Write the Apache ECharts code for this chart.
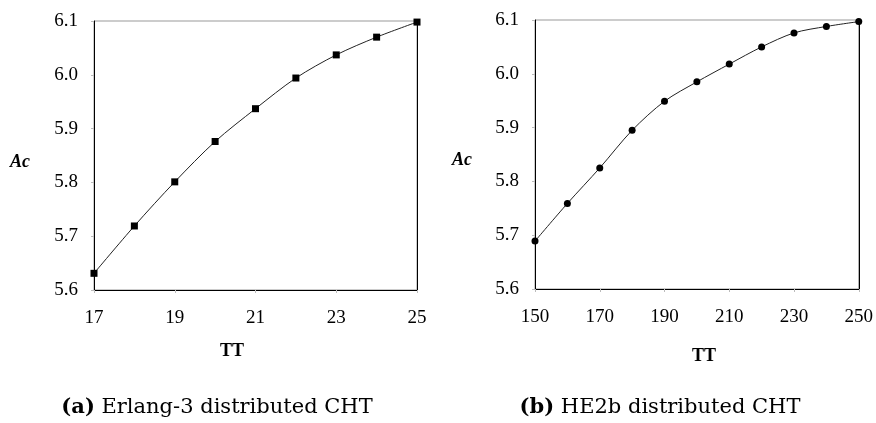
<!DOCTYPE html>
<html>
<head>
<meta charset="utf-8">
<script src="https://cdn.jsdelivr.net/npm/echarts@6/dist/echarts.min.js"></script>
<style>html,body{margin:0;padding:0;background:#fff}#c{width:876px;height:423px}</style>
</head>
<body>
<div id="c"></div>
<script>
const ttA = ['17','18','19','20','21','22','23','24','25'];
const acA = [5.631, 5.719, 5.801, 5.876, 5.937, 5.994, 6.037, 6.070, 6.098];
const ttB = ['150','160','170','180','190','200','210','220','230','240','250'];
const acB = [5.689, 5.759, 5.825, 5.895, 5.949, 5.985, 6.018, 6.050, 6.076, 6.088, 6.097];
const yMin = 5.6, yMax = 6.1, yStep = 0.1;
const captionA = '(a)';
const captionAText = ' Erlang-3 distributed CHT';
const captionB = '(b)';
const captionBText = ' HE2b distributed CHT';

const serif = 'Liberation Serif';
const chart = echarts.init(document.getElementById('c'), null, {renderer: 'canvas'});

function xAx(cats, gi) {
  return {
    type: 'category', data: cats, gridIndex: gi, boundaryGap: false,
    axisLine: {lineStyle: {color: '#000', width: 1}},
    axisTick: {show: true, interval: 1, length: 3, lineStyle: {color: '#bbb'}},
    axisLabel: {interval: 1, color: '#000', fontFamily: serif, fontSize: 19, margin: 19},
    splitLine: {show: false}
  };
}
function yAx(gi) {
  return {
    type: 'value', gridIndex: gi, min: yMin, max: yMax, interval: yStep,
    axisLine: {show: true, lineStyle: {color: '#000', width: 1}},
    axisTick: {show: true, length: 3, lineStyle: {color: '#bbb'}},
    axisLabel: {color: '#000', fontFamily: serif, fontSize: 19, margin: 16,
      formatter: v => v.toFixed(1)},
    splitLine: {show: false}
  };
}
function yRight(gi) {
  return {
    type: 'value', gridIndex: gi, min: yMin, max: yMax, interval: yStep, position: 'right',
    axisLine: {show: true, lineStyle: {color: '#000', width: 1}},
    axisTick: {show: false}, axisLabel: {show: false}, splitLine: {show: false}
  };
}

chart.setOption({
  animation: false,
  grid: [
    {left: 94, right: 459, top: 21, bottom: 133, show: true, borderColor: '#999', borderWidth: 1},
    {left: 535, right: 15, top: 20, bottom: 134, show: true, borderColor: '#999', borderWidth: 1}
  ],
  xAxis: [xAx(ttA, 0), xAx(ttB, 1)],
  yAxis: [yAx(0), yRight(0), yAx(1), yRight(1)],
  series: [
    {type: 'line', xAxisIndex: 0, yAxisIndex: 0, data: acA, smooth: 0.3,
      symbol: 'rect', symbolSize: 7, itemStyle: {color: '#000'},
      lineStyle: {color: '#222', width: 1}},
    {type: 'line', xAxisIndex: 1, yAxisIndex: 2, data: acB, smooth: 0.3,
      symbol: 'circle', symbolSize: 7, itemStyle: {color: '#000'},
      lineStyle: {color: '#222', width: 1}}
  ],
  graphic: [
    {type: 'text', x: 20, y: 162, style: {text: 'Ac', font: 'italic bold 18px "Liberation Serif"', fill: '#000', align: 'center', verticalAlign: 'middle'}},
    {type: 'text', x: 462, y: 160, style: {text: 'Ac', font: 'italic bold 18px "Liberation Serif"', fill: '#000', align: 'center', verticalAlign: 'middle'}},
    {type: 'text', x: 232, y: 351, style: {text: 'TT', font: 'bold 18px "Liberation Serif"', fill: '#000', align: 'center', verticalAlign: 'middle'}},
    {type: 'text', x: 704, y: 356, style: {text: 'TT', font: 'bold 18px "Liberation Serif"', fill: '#000', align: 'center', verticalAlign: 'middle'}},
    {type: 'text', x: 217, y: 408, style: {
      text: '{b|' + captionA + '}{n|' + captionAText + '}', align: 'center', verticalAlign: 'middle',
      rich: {b: {font: 'bold 21px "DejaVu Serif"', fill: '#000'}, n: {font: '21px "DejaVu Serif"', fill: '#000'}}}},
    {type: 'text', x: 660, y: 408, style: {
      text: '{b|' + captionB + '}{n|' + captionBText + '}', align: 'center', verticalAlign: 'middle',
      rich: {b: {font: 'bold 21px "DejaVu Serif"', fill: '#000'}, n: {font: '21px "DejaVu Serif"', fill: '#000'}}}}
  ]
});
</script>
</body>
</html>
